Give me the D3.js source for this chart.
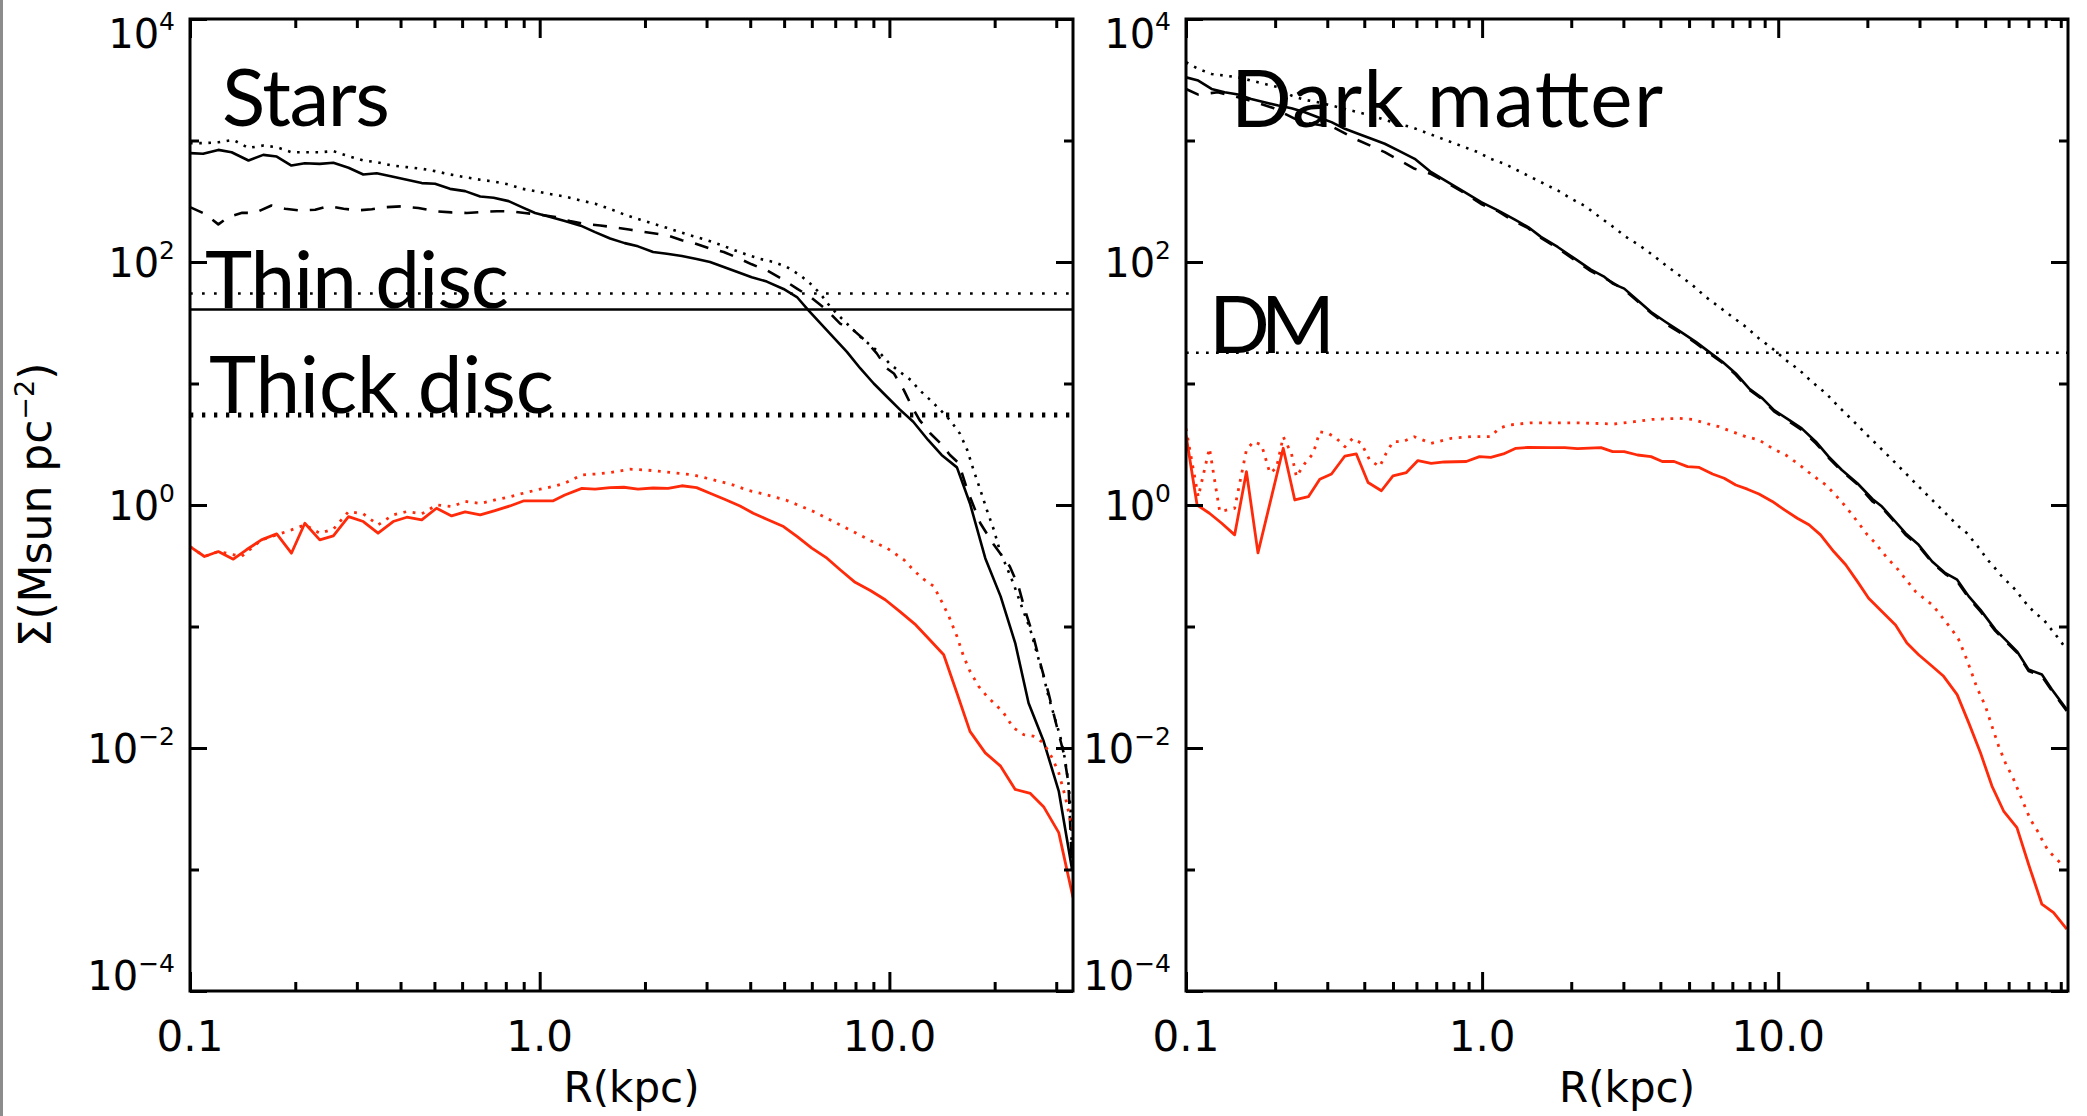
<!DOCTYPE html>
<html>
<head>
<meta charset="utf-8">
<script src="https://cdn.jsdelivr.net/npm/d3@7"></script>
<style>
  body { margin: 0; background: #fff; }
  svg { display: block; }
</style>
</head>
<body>
<svg id="chart" width="2087" height="1116"></svg>
<script>
// ---------- data (R in kpc, surface density in Msun pc^-2) ----------

// left panel: stars
const starsSolidR = [0.100,0.109,0.1205,0.1315,0.147,0.162,0.177,0.195,0.213,0.235,0.257,0.284,0.313,0.342,0.378,0.417,0.460,0.502,0.554,0.612,0.676,0.738,0.815,0.889,0.970,1.06,1.18,1.31,1.44,1.59,1.75,1.91,2.11,2.31,2.55,2.81,3.07,3.36,3.66,4.04,4.46,4.98,5.44,5.87,6.63,7.56,8.26,9.02,9.84,10.7,11.7,12.9,14.1,15.6,17.0,18.8,20.8,22.9,25.0,27.6,30.5,33.3];
const starsSolid = [787,777,837,801,684,762,738,622,650,642,655,596,525,538,506,475,446,440,400,383,346,338,317,283,253,237,217,199,176,156,143,134.5,121,117,112,106,100,91,83,75,69,60,51.5,40,27.4,18.2,13.3,10.0,7.78,6.12,4.84,3.43,2.58,2.04,1.03,0.365,0.177,0.0731,0.0235,0.0114,0.00442,0.00100];

const starsDashR = [0.100,0.110,0.1205,0.129,0.141,0.153,0.171,0.187,0.206,0.228,0.249,0.275,0.303,0.331,0.365,0.403,0.450,0.502,0.560,0.619,0.683,0.755,0.833,0.906,1.00,1.11,1.22,1.35,1.49,1.65,1.82,2.09,2.31,2.55,2.78,3.07,3.36,3.66,4.04,4.46,4.92,5.44,5.94,6.63,7.23,7.89,8.62,9.20,9.84,10.3,11.0,11.6,12.2,13.1,14.0,14.9,15.8,16.7,18.2,19.9,22.1,23.4,24.4,25.8,27.0,28.5,30.1,31.5,32.5,33.3];
const starsDash = [283,250,204,235,254,253,292,274,266,269,288,274,266,272,283,287,278,262,256,253,258,262,261,253,245,235,217,205,200,192,184,173,166,151,142,129,121,109,95.7,85.4,72.9,60.4,51.6,40.1,31.1,27.5,22.0,17.7,13.3,12.1,8.82,6.44,5.00,3.88,3.22,2.58,2.20,1.33,0.708,0.47,0.312,0.214,0.138,0.083,0.050,0.0284,0.0151,0.00912,0.00517,0.001];

const starsDotR = [0.100,0.110,0.1205,0.133,0.147,0.162,0.177,0.195,0.213,0.235,0.257,0.284,0.313,0.342,0.378,0.417,0.460,0.502,0.554,0.612,0.676,0.738,0.815,0.889,0.970,1.06,1.18,1.31,1.44,1.63,1.77,1.94,2.11,2.31,2.52,2.75,3.01,3.28,3.58,3.91,4.27,4.66,5.09,5.56,5.94,6.34,6.78,7.23,7.73,8.26,8.82,9.42,10.0,10.7,11.5,12.2,13.1,14.0,14.9,15.9,16.7,17.4,18.2,19.0,19.9,20.8,21.4,22.6,23.9,25.3,26.4,27.6,28.5,29.8,30.8,31.8,32.6,33.1,33.3];
const starsDot = [951,951,968,1012,869,909,881,801,801,801,817,743,684,663,622,604,585,560,525,499,475,460,435,401,383,364,346,321,302,266,242,223,207,191,176,163,151,139,126,115,106,100,91,77.7,66.4,55,42.7,35.3,29.2,24.2,20.7,17.7,14.6,12.5,10.7,8.82,7.30,6.04,5.00,3.88,2.83,1.94,1.33,0.91,0.623,0.40,0.333,0.228,0.146,0.094,0.0605,0.0389,0.0267,0.0171,0.0125,0.00804,0.00485,0.00258,0.00107];

const starsRedR = [0.100,0.110,0.1205,0.133,0.145,0.160,0.177,0.195,0.213,0.235,0.257,0.284,0.313,0.345,0.381,0.417,0.460,0.507,0.560,0.612,0.676,0.745,0.822,0.898,0.980,1.09,1.18,1.32,1.44,1.59,1.74,1.91,2.11,2.33,2.55,2.81,3.07,3.39,3.74,4.08,4.46,4.98,5.44,6.00,6.63,7.23,7.98,8.82,9.73,10.7,11.9,12.9,14.3,15.6,17.0,18.8,20.8,22.9,25.3,27.6,30.5,33.5];
const starsRed = [0.455,0.377,0.414,0.358,0.428,0.516,0.578,0.401,0.708,0.516,0.557,0.803,0.731,0.586,0.731,0.793,0.754,0.940,0.813,0.877,0.828,0.899,0.982,1.08,1.08,1.08,1.21,1.37,1.35,1.39,1.40,1.35,1.38,1.37,1.44,1.39,1.25,1.11,0.982,0.855,0.763,0.665,0.551,0.442,0.365,0.293,0.231,0.198,0.166,0.133,0.103,0.0804,0.0586,0.0284,0.0137,0.00912,0.00709,0.00456,0.00423,0.00329,0.00201,0.000588];

const starsRedDotR = [0.100,0.110,0.1205,0.1405,0.160,0.177,0.195,0.213,0.235,0.257,0.284,0.313,0.345,0.381,0.417,0.460,0.507,0.560,0.612,0.676,0.745,0.822,0.898,0.980,1.09,1.18,1.32,1.44,1.59,1.81,2.02,2.26,2.52,2.75,3.01,3.28,3.58,3.91,4.27,4.66,5.09,5.56,6.07,6.63,7.23,7.89,8.82,9.84,11.0,11.7,12.4,13.4,14.1,14.8,15.6,16.3,17.0,18.0,19.0,20.1,21.2,22.6,24.2,25.8,27.6,29.2,30.5,31.8,32.9,33.5];
const starsRedDot = [0.455,0.377,0.414,0.377,0.516,0.568,0.624,0.686,0.586,0.632,0.883,0.845,0.686,0.829,0.883,0.845,1.00,0.970,1.07,1.03,1.10,1.17,1.25,1.33,1.42,1.51,1.77,1.80,1.85,1.97,1.94,1.88,1.82,1.77,1.66,1.56,1.46,1.33,1.25,1.17,1.09,0.982,0.883,0.778,0.686,0.604,0.51,0.442,0.354,0.293,0.250,0.214,0.161,0.121,0.083,0.0568,0.0428,0.0322,0.0267,0.0228,0.0195,0.0147,0.0129,0.0125,0.0110,0.0083,0.00625,0.00402,0.00259,0.00207];

// horizontal reference levels: thin disc (dotted, solid), thick disc
const thinDiscLevels = [55, 40.6];
const thickDiscLevel = 5.5;

// right panel: dark matter
const dmSolidR = [0.100,0.110,0.122,0.135,0.150,0.166,0.184,0.205,0.227,0.252,0.279,0.310,0.344,0.381,0.423,0.469,0.520,0.592,0.673,0.766,0.873,0.993,1.13,1.29,1.43,1.58,1.80,2.05,2.33,2.59,2.76,3.02,3.35,3.72,4.17,4.69,5.27,5.84,6.48,7.19,7.97,8.84,9.68,10.9,12.0,13.4,14.8,16.4,18.5,20.8,22.4,24.3,26.9,29.8,33.1,36.7,40.2,44.0,48.2,54.1,58.5,64.0,70.1,77.7,84.0,94.3];
const dmSolid = [3311,3112,2656,2495,2388,2199,2065,1939,1844,1710,1556,1416,1248,1136,1033,940,828,707,549,455,376,311,266,223,194,161,133,107,86.5,75.3,66.4,60.4,48.4,38.8,32.1,26.6,22.0,18.2,15.1,12.1,9.10,7.54,6.04,5.00,4.27,3.32,2.50,1.94,1.51,1.12,0.971,0.778,0.586,0.470,0.343,0.275,0.243,0.177,0.137,0.0942,0.0780,0.0625,0.0442,0.0402,0.0303,0.0207];

const dmDashR = [0.100,0.110,0.128,0.158,0.197,0.246,0.314,0.372,0.469,0.592,0.673,0.766,0.873,0.993,1.13,1.29,1.43,1.58,1.80,2.05,2.33,2.59,3.02,3.35,3.72,4.17,4.69,5.27,5.84,6.48,7.19,7.97,8.84,9.68,10.9,12.0,13.4,14.8,16.4,18.5,20.8,22.4,24.3,26.9,29.8,33.1,36.7,40.2,44.0,48.2,54.1,58.5,64.0,70.1,77.7,84.0,94.3];
const dmDash = [2656,2388,2495,2199,1854,1416,1288,1033,802,585,530,445,370,300,262,215,190,158,130,104,84,74,59,47.5,38,31,26,21.5,17.8,14.8,11.8,8.9,7.4,5.9,4.85,4.15,3.22,2.45,1.9,1.48,1.07,0.95,0.76,0.57,0.46,0.335,0.27,0.235,0.172,0.133,0.092,0.076,0.061,0.043,0.039,0.0295,0.0202];

const dmDotR = [0.100,0.110,0.122,0.135,0.150,0.166,0.184,0.205,0.227,0.252,0.279,0.310,0.344,0.381,0.423,0.469,0.520,0.577,0.641,0.710,0.787,0.873,0.968,1.07,1.19,1.32,1.46,1.62,1.80,2.00,2.22,2.49,2.76,3.06,3.40,3.77,4.17,4.63,5.14,5.69,6.31,7.00,7.77,8.61,9.55,10.6,11.8,13.0,14.5,16.0,17.8,19.7,21.9,24.3,26.9,29.8,33.1,37.7,40.7,43.4,45.7,48.2,50.7,53.4,56.2,60.0,63.2,66.5,70.1,73.8,78.7,82.9,87.3,92.0];
const dmDot = [4406,3882,3532,3421,3311,3112,2924,2744,2344,2159,2065,1939,1820,1710,1605,1479,1371,1288,1171,1065,969,881,802,706,643,566,500,441,388,332,290,235,196,161,137,114,94.0,77.8,64.4,51.6,42.8,35.3,29.3,23.5,19.4,15.6,12.9,10.3,8.29,6.44,5.00,3.89,3.02,2.35,1.83,1.42,1.10,0.803,0.665,0.586,0.501,0.428,0.358,0.312,0.267,0.228,0.201,0.171,0.146,0.129,0.114,0.0972,0.0830,0.0700];

const dmRedR = [0.100,0.109,0.120,0.132,0.146,0.160,0.175,0.213,0.233,0.259,0.283,0.310,0.344,0.376,0.412,0.457,0.500,0.555,0.607,0.673,0.746,0.884,0.980,1.07,1.18,1.30,1.43,1.71,1.90,2.10,2.52,2.76,3.02,3.35,3.72,4.06,4.45,4.94,5.41,6.00,6.57,7.19,7.87,8.61,9.55,10.5,11.6,12.7,13.9,15.4,16.9,18.5,20.2,22.4,24.9,27.2,29.8,33.1,36.2,40.2,44.0,48.2,52.7,57.7,64.0,70.1,77.7,85.1,94.3];
const dmRed = [3.77,1.00,0.855,0.708,0.568,1.88,0.404,2.93,1.10,1.17,1.63,1.80,2.53,2.63,1.53,1.31,1.74,1.85,2.32,2.20,2.26,2.28,2.50,2.47,2.63,2.93,2.98,2.97,2.97,2.91,2.97,2.75,2.75,2.58,2.50,2.28,2.28,2.07,2.04,1.80,1.66,1.46,1.35,1.23,1.07,0.911,0.778,0.687,0.568,0.414,0.322,0.235,0.171,0.133,0.103,0.0731,0.0586,0.0471,0.0389,0.0275,0.0161,0.00913,0.00486,0.00303,0.00221,0.00110,0.000518,0.000442,0.000323];

const dmRedDotR = [0.100,0.110,0.120,0.130,0.146,0.160,0.169,0.180,0.192,0.202,0.213,0.227,0.236,0.252,0.269,0.283,0.302,0.322,0.344,0.366,0.391,0.417,0.451,0.474,0.500,0.540,0.590,0.673,0.787,0.920,1.07,1.14,1.23,1.45,1.71,2.02,2.37,2.79,3.27,3.77,4.63,5.14,5.69,6.31,7.00,7.77,8.61,9.55,10.6,11.8,13.0,14.5,15.6,16.9,18.7,20.0,21.3,22.4,23.6,24.9,26.2,27.6,29.1,31.0,33.1,34.9,36.7,38.6,40.7,42.9,44.6,46.9,50.1,52.7,55.5,58.5,62.4,66.5,71.0,75.7,78.7,81.8,87.3,92.0];
const dmRedDot = [4.27,1.17,2.93,0.883,0.940,2.84,3.32,3.12,1.83,2.01,3.65,2.66,1.71,2.20,2.66,4.01,3.89,3.54,3.02,3.54,3.22,2.35,2.07,2.66,3.32,3.32,3.65,3.22,3.54,3.65,3.65,4.27,4.55,4.75,4.75,4.75,4.70,4.64,4.85,5.07,5.16,5.07,4.70,4.41,4.01,3.65,3.43,2.93,2.58,2.14,1.77,1.46,1.21,0.971,0.708,0.568,0.485,0.414,0.354,0.312,0.267,0.228,0.194,0.171,0.151,0.129,0.110,0.0942,0.0780,0.0569,0.0442,0.0313,0.0221,0.0151,0.0104,0.00755,0.00551,0.00378,0.00259,0.00201,0.00166,0.00142,0.00121,0.00107];

const dmLevel = 17.9;

// axis ticks and labels
const xMajor = [0.1, 1, 10];
const xMajorLabels = ["0.1", "1.0", "10.0"];
const xMinor = [0.2,0.3,0.4,0.5,0.6,0.7,0.8,0.9,2,3,4,5,6,7,8,9,20,30,40,50,60,70,80,90];
const yMajor = [1e-4, 1e-2, 1, 1e2, 1e4];
const yMajorExp = ["\u22124", "\u22122", "0", "2", "4"];
const yMinor = [1e-3, 1e-1, 10, 1e3];

// ---------- drawing ----------
const svg = d3.select("#chart");
const red = "#ff2a0a";
const axisFont = "'DejaVu Sans', 'Liberation Sans', sans-serif";
const labelFont = "Lato, 'Open Sans', sans-serif";

svg.append("rect").attr("width", 2087).attr("height", 1116).attr("fill", "#fff");
// thin grey edge on the left of the figure
svg.append("rect").attr("x", 0).attr("y", 0).attr("width", 3).attr("height", 1116).attr("fill", "#8c8c8c");

const y = d3.scaleLog().domain([1e-4, 1e4]).range([991, 19]);

const panels = [
  {
    id: "stars",
    x: d3.scaleLog().domain([0.1, 33.5]).range([190, 1073]),
    series: [
      { r: starsDotR, v: starsDot, color: "#000", w: 2.6, dash: "2.6,6.6" },
      { r: starsDashR, v: starsDash, color: "#000", w: 2.6, dash: "14,12" },
      { r: starsSolidR, v: starsSolid, color: "#000", w: 2.6, dash: null },
      { r: starsRedDotR, v: starsRedDot, color: red, w: 2.8, dash: "2.8,6.6" },
      { r: starsRedR, v: starsRed, color: red, w: 2.8, dash: null }
    ],
    levels: [
      { v: thinDiscLevels[0], w: 2.6, dash: "2.7,9.3" },
      { v: thinDiscLevels[1], w: 2.4, dash: null },
      { v: thickDiscLevel, w: 5, dash: "3.3,8.7" }
    ],
    labels: [
      { text: "Stars", x: 222, y: 126, len: 168 },
      { text: "Thin disc", x: 205, y: 308, len: 304 },
      { text: "Thick disc", x: 209, y: 413, len: 345 }
    ]
  },
  {
    id: "dm",
    x: d3.scaleLog().domain([0.1, 95.2]).range([1186, 2068]),
    series: [
      { r: dmDotR, v: dmDot, color: "#000", w: 2.6, dash: "2.6,6.6" },
      { r: dmDashR, v: dmDash, color: "#000", w: 2.6, dash: "14,12" },
      { r: dmSolidR, v: dmSolid, color: "#000", w: 2.6, dash: null },
      { r: dmRedDotR, v: dmRedDot, color: red, w: 2.8, dash: "2.8,6.6" },
      { r: dmRedR, v: dmRed, color: red, w: 2.8, dash: null }
    ],
    levels: [
      { v: dmLevel, w: 2.6, dash: "2.7,7.3" }
    ],
    labels: [
      { text: "Dark matter", x: 1231, y: 127, len: 432 },
      { text: "DM", x: 1209, y: 353, len: 126 }
    ]
  }
];

function drawPanel(p) {
  const x = p.x;
  const [x0, x1] = x.range();
  const [yb, yt] = y.range();
  const g = svg.append("g");

  g.append("clipPath").attr("id", "clip-" + p.id)
    .append("rect").attr("x", x0).attr("y", yt).attr("width", x1 - x0).attr("height", yb - yt);

  // panel titles
  g.selectAll("text.panel-label").data(p.labels).enter().append("text")
    .attr("class", "panel-label")
    .attr("x", d => d.x).attr("y", d => d.y)
    .attr("font-family", labelFont).attr("font-size", 80)
    .attr("textLength", d => d.len).attr("lengthAdjust", "spacing")
    .attr("fill", "#000")
    .text(d => d.text);

  const plot = g.append("g").attr("clip-path", `url(#clip-${p.id})`);

  plot.selectAll("line.level").data(p.levels).enter().append("line")
    .attr("class", "level")
    .attr("x1", x0).attr("x2", x1)
    .attr("y1", d => y(d.v)).attr("y2", d => y(d.v))
    .attr("stroke", "#000").attr("stroke-width", d => d.w)
    .attr("stroke-dasharray", d => d.dash);

  const line = d3.line().x(d => x(d[0])).y(d => y(d[1]));
  plot.selectAll("path.series").data(p.series).enter().append("path")
    .attr("class", "series")
    .attr("d", d => line(d3.zip(d.r, d.v)))
    .attr("fill", "none")
    .attr("stroke", d => d.color)
    .attr("stroke-width", d => d.w)
    .attr("stroke-dasharray", d => d.dash)
    .attr("stroke-linejoin", "round");

  // ticks on all four sides, pointing inwards
  const inX = v => v >= x.domain()[0] && v <= x.domain()[1];
  const tickGroup = (axis, tx, ty) => g.append("g")
    .attr("transform", `translate(${tx},${ty})`)
    .call(axis)
    .call(a => a.select(".domain").remove())
    .call(a => a.selectAll(".tick line").attr("stroke", "#000").attr("stroke-width", 3));

  tickGroup(d3.axisTop(x).tickValues(xMajor.filter(inX)).tickSize(19).tickSizeOuter(0).tickFormat(""), 0, yb);
  tickGroup(d3.axisTop(x).tickValues(xMinor.filter(inX)).tickSize(9).tickSizeOuter(0).tickFormat(""), 0, yb);
  tickGroup(d3.axisBottom(x).tickValues(xMajor.filter(inX)).tickSize(19).tickSizeOuter(0).tickFormat(""), 0, yt);
  tickGroup(d3.axisBottom(x).tickValues(xMinor.filter(inX)).tickSize(9).tickSizeOuter(0).tickFormat(""), 0, yt);
  tickGroup(d3.axisRight(y).tickValues(yMajor).tickSize(17).tickSizeOuter(0).tickFormat(""), x0, 0);
  tickGroup(d3.axisRight(y).tickValues(yMinor).tickSize(9).tickSizeOuter(0).tickFormat(""), x0, 0);
  tickGroup(d3.axisLeft(y).tickValues(yMajor).tickSize(17).tickSizeOuter(0).tickFormat(""), x1, 0);
  tickGroup(d3.axisLeft(y).tickValues(yMinor).tickSize(9).tickSizeOuter(0).tickFormat(""), x1, 0);

  // frame
  g.append("rect").attr("x", x0).attr("y", yt).attr("width", x1 - x0).attr("height", yb - yt)
    .attr("fill", "none").attr("stroke", "#000").attr("stroke-width", 3);

  // x tick labels
  g.selectAll("text.xlab").data(xMajor.map((v, i) => ({ v, t: xMajorLabels[i] })).filter(d => inX(d.v)))
    .enter().append("text")
    .attr("class", "xlab")
    .attr("x", d => x(d.v)).attr("y", 1051)
    .attr("text-anchor", "middle")
    .attr("font-family", axisFont).attr("font-size", 42)
    .text(d => d.t);

  // y tick labels 10^n
  yMajor.forEach((v, i) => {
    const base = Math.min(Math.max(y(v) + 15, 48), 990);
    const t = g.append("text")
      .attr("x", x0 - 15).attr("y", base)
      .attr("text-anchor", "end")
      .attr("font-family", axisFont).attr("font-size", 40);
    t.append("tspan").text("10");
    t.append("tspan").attr("dy", -18).attr("font-size", 25).text(yMajorExp[i]);
  });

  // x axis title
  g.append("text")
    .attr("x", (x0 + x1) / 2).attr("y", 1102)
    .attr("text-anchor", "middle")
    .attr("font-family", axisFont).attr("font-size", 42)
    .text("R(kpc)");
}

panels.forEach(drawPanel);

// y axis title
const yt = svg.append("text")
  .attr("transform", `translate(51,${(y.range()[0] + y.range()[1]) / 2}) rotate(-90)`)
  .attr("text-anchor", "middle")
  .attr("font-family", axisFont).attr("font-size", 44);
yt.append("tspan").text("\u03A3(Msun pc");
yt.append("tspan").attr("dy", -17).attr("font-size", 27).text("\u22122");
yt.append("tspan").attr("dy", 17).text(")");
</script>
</body>
</html>
